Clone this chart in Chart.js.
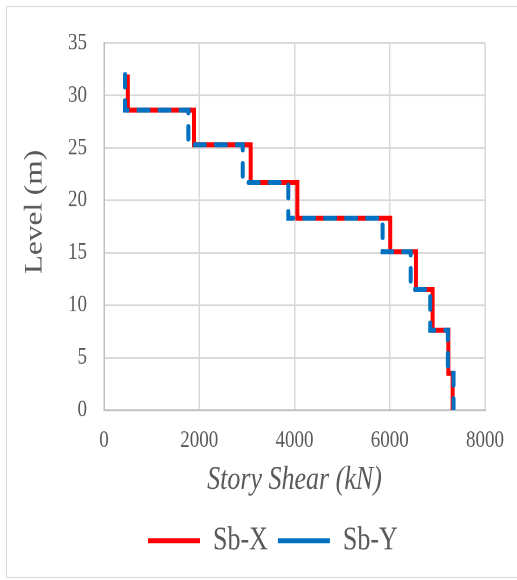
<!DOCTYPE html>
<html>
<head>
<meta charset="utf-8">
<script src="https://cdn.jsdelivr.net/npm/chart.js@4/dist/chart.umd.min.js"></script>
<style>
    html, body { margin: 0; padding: 0; background: #fff; overflow: hidden; }
    body { width: 517px; height: 580px; position: relative; }
    #frame { position: absolute; left: 6px; top: 6px; width: 540px; height: 570px; border: 1.5px solid #d9d9d9; }
    /* the reference picture is stretched vertically, so the chart is drawn shorter and scaled */
    #wrap { position: absolute; left: 0; top: 0; width: 517px; height: 464px; transform: scaleY(1.25); transform-origin: 0 0; }
</style>
</head>
<body>
<div id="frame"></div>
<div id="wrap"><canvas id="chart" width="517" height="464"></canvas></div>
<script>
// Levels (m), top to bottom
const levels = [32.0, 28.6, 25.3, 21.7, 18.3, 15.1, 11.5, 7.6, 3.5, 0];
// Story shear (kN) for each storey, top storey first
const shearSbX = [500, 1890, 3080, 4060, 6010, 6550, 6900, 7230, 7320];
const shearSbY = [441, 1771, 2913, 3870, 5850, 6440, 6850, 7220, 7340];
const seriesNames = ['Sb-X', 'Sb-Y'];
const xTicks = [0, 2000, 4000, 6000, 8000];
const yTicks = [0, 5, 10, 15, 20, 25, 30, 35];

const textColor = '#595959';
const gridColor = '#d9d9d9';

// one point per level, stepped line goes down first then across
function toPoints(shear) {
    return levels.map((lv, i) => ({ x: shear[Math.min(i, shear.length - 1)], y: lv }));
}

// move the y title up a little (it is not centred on the axis in the original)
function shiftTitle(axis) {
    if (axis._titleShifted) return;
    const draw = axis.drawTitle;
    axis.drawTitle = function () {
        this.ctx.save();
        this.ctx.translate(0, -11.6);
        draw.call(this);
        this.ctx.restore();
    };
    axis._titleShifted = true;
}

const ctx = document.getElementById('chart').getContext('2d');
new Chart(ctx, {
    type: 'scatter',
    data: {
        datasets: [
            {
                label: seriesNames[0],
                data: toPoints(shearSbX),
                showLine: true,
                stepped: 'after',
                borderColor: '#ff0000',
                backgroundColor: '#ff0000',
                borderWidth: 4,
                pointRadius: 0,
                order: 1
            },
            {
                label: seriesNames[1],
                data: toPoints(shearSbY),
                showLine: true,
                stepped: 'after',
                borderColor: '#0070c0',
                backgroundColor: '#0070c0',
                borderWidth: 4,
                borderDash: [10, 11],
                borderCapStyle: 'round',
                pointRadius: 0,
                order: 0
            }
        ]
    },
    options: {
        responsive: false,
        animation: false,
        devicePixelRatio: 2,
        layout: { padding: { top: 34.4, left: 60.8, right: 32, bottom: 8.4 } },
        plugins: {
            tooltip: { enabled: false },
            legend: {
                position: 'bottom',
                labels: {
                    usePointStyle: true,
                    pointStyle: 'line',
                    pointStyleWidth: 52,
                    padding: 10,
                    color: textColor,
                    font: { family: 'Liberation Serif', size: 26 },
                    sort: (a, b) => a.datasetIndex - b.datasetIndex,
                    generateLabels: chart => Chart.defaults.plugins.legend.labels.generateLabels(chart)
                        .map(item => (item.lineDash && item.lineDash.length) ? { ...item, lineDash: [11, 9] } : item)
                }
            }
        },
        scales: {
            x: {
                type: 'linear',
                min: xTicks[0],
                max: xTicks[xTicks.length - 1],
                afterBuildTicks: axis => { axis.ticks = xTicks.map(v => ({ value: v })); },
                afterFit: axis => { axis.height = 81.6; axis.paddingLeft = 0; axis.paddingRight = 0; },
                ticks: {
                    padding: 13,
                    color: textColor,
                    font: { family: 'Liberation Serif', size: 19 },
                    callback: v => String(v)
                },
                grid: { color: gridColor, lineWidth: 1.5, drawTicks: false },
                border: { color: '#bfbfbf', width: 1.5 },
                title: {
                    display: true,
                    text: 'Story Shear (kN)',
                    color: textColor,
                    font: { family: 'Liberation Serif', size: 26, style: 'italic' },
                    padding: { top: 0, bottom: 10 }
                }
            },
            y: {
                type: 'linear',
                min: yTicks[0],
                max: yTicks[yTicks.length - 1],
                afterBuildTicks: axis => { axis.ticks = yTicks.map(v => ({ value: v })); },
                afterFit: axis => { axis.width = 43.2; shiftTitle(axis); },
                ticks: {
                    padding: 17,
                    color: textColor,
                    font: { family: 'Liberation Serif', size: 19 },
                    callback: v => String(v)
                },
                grid: { color: gridColor, lineWidth: 1.5, drawTicks: false },
                border: { color: '#bfbfbf', width: 1.5 },
                title: {
                    display: true,
                    text: 'Level (m)',
                    color: textColor,
                    font: { family: 'Liberation Serif', size: 25, weight: 'normal' },
                    padding: { top: -41, bottom: 0 }
                }
            }
        }
    }
});
</script>
</body>
</html>
